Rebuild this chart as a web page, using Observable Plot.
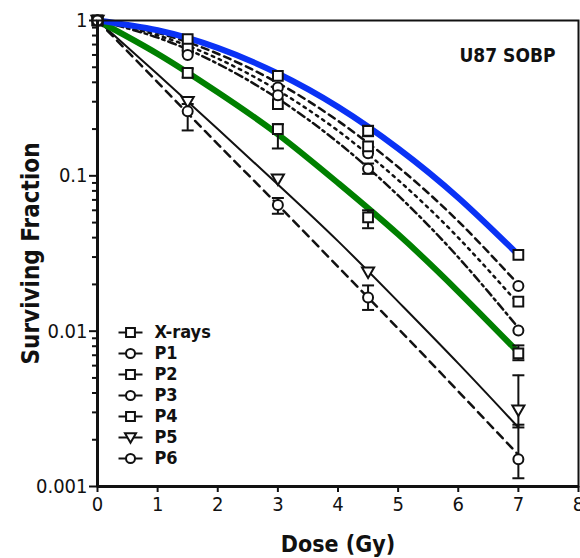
<!DOCTYPE html>
<html><head><meta charset="utf-8">
<script src="https://cdn.jsdelivr.net/npm/d3@7"></script>
<script src="https://cdn.jsdelivr.net/npm/@observablehq/plot@0.6"></script>
<style>
body{margin:0;background:#fff;}
</style></head><body><div id="chart"></div>
<script>
// ---- data ----
const seriesNames = ["X-rays","P1","P2","P3","P4","P5","P6"];
const doses = [0, 1.5, 3, 4.5, 7];
const sfXrays = [1, 0.76, 0.44, 0.195, 0.031];
const sfP1 = [1, 0.64, 0.37, 0.14, 0.0195];
const sfP2 = [1, 0.66, 0.29, 0.155, 0.0155];
const sfP3 = [1, 0.6, 0.33, 0.111, 0.0101];
const sfP4 = [1, 0.46, 0.2, 0.054, 0.0072];
const sfP5 = [1, 0.3, 0.095, 0.024, 0.0031];
const sfP6 = [1, 0.26, 0.065, 0.0165, 0.0015];

// fitted curves, read at integer doses
const fitDoses = [0, 1, 2, 3, 4, 5, 6, 7];
const fitXrays = [1, 0.865, 0.666, 0.456, 0.278, 0.15, 0.0723, 0.031];
const fitP1 = [1, 0.832, 0.611, 0.396, 0.226, 0.114, 0.051, 0.02];
const fitP2 = [1, 0.803, 0.569, 0.355, 0.195, 0.094, 0.04, 0.015];
const fitP3 = [1, 0.776, 0.527, 0.314, 0.164, 0.0748, 0.0299, 0.0105];
const fitP4 = [1, 0.61, 0.345, 0.185, 0.09, 0.042, 0.018, 0.0073];
const fitP5 = [1, 0.45, 0.2, 0.088, 0.038, 0.0155, 0.0062, 0.0024];
const fitP6 = [1, 0.4, 0.16, 0.065, 0.026, 0.0104, 0.0041, 0.0016];

// error bars
const errSeries = ["X-rays","P3","P4","P4","P4","P4","P5","P6","P6","P6","P6"];
const errDose =   [4.5, 4.5, 1.5, 3, 4.5, 7, 7, 1.5, 3, 4.5, 7];
const errLow =    [0.18, 0.103, 0.43, 0.15, 0.046, 0.0065, 0.0024, 0.196, 0.057, 0.0137, 0.00113];
const errHigh =   [0.21, 0.12, 0.49, 0.215, 0.06, 0.0081, 0.0052, 0.29, 0.072, 0.0197, 0.0025];

const xTicks = [0,1,2,3,4,5,6,7,8];
const yMajorTicks = [1, 0.1, 0.01, 0.001];
const yTickLabels = ["1", "0.1", "0.01", "0.001"];
const chartTitle = "U87 SOBP";
const xLabel = "Dose (Gy)";
const yLabel = "Surviving Fraction";

// ---- styles ----
const triDown = {draw(ctx, size){ const r = Math.sqrt(size/Math.PI); ctx.moveTo(-r*1.1,-r*0.85); ctx.lineTo(r*1.1,-r*0.85); ctx.lineTo(0,r*1.05); ctx.closePath(); }};
const hbar = {draw(ctx){ ctx.moveTo(-12,0); ctx.lineTo(12,0); }};
const cap = {draw(ctx){ ctx.moveTo(-6,0); ctx.lineTo(6,0); }};
const symbols = {"X-rays": d3.symbolSquare, P1: d3.symbolCircle, P2: d3.symbolSquare, P3: d3.symbolCircle, P4: d3.symbolSquare, P5: triDown, P6: d3.symbolCircle};
const radii = {"X-rays":5.5, P1:5, P2:5.5, P3:5, P4:5.5, P5:5.5, P6:5};
const lineStyle = {
  "X-rays": {stroke:"#0a32f5", strokeWidth:6},
  P1: {stroke:"#111", strokeWidth:2.5, strokeDasharray:"7,5"},
  P2: {stroke:"#111", strokeWidth:2.5, strokeDasharray:"2.5,5"},
  P3: {stroke:"#111", strokeWidth:2.5, strokeDasharray:"8,4,2.5,4"},
  P4: {stroke:"#008000", strokeWidth:6},
  P5: {stroke:"#111", strokeWidth:2},
  P6: {stroke:"#111", strokeWidth:2.5, strokeDasharray:"8,6"}
};

const sfBy = {"X-rays":sfXrays, P1:sfP1, P2:sfP2, P3:sfP3, P4:sfP4, P5:sfP5, P6:sfP6};
const fitBy = {"X-rays":fitXrays, P1:fitP1, P2:fitP2, P3:fitP3, P4:fitP4, P5:fitP5, P6:fitP6};

const yMinorTicks = [];
for (const dec of [0.001, 0.01, 0.1]) for (let k = 2; k <= 9; k++) yMinorTicks.push(+(k*dec).toPrecision(3));

const errData = errSeries.map((s,i)=>({series:s, dose:errDose[i], lo:errLow[i], hi:errHigh[i]}));

const marks = [];
// fitted lines
for (const s of ["P1","P2","P3","P6","P5","P4","X-rays"]) {
  marks.push(Plot.line(fitDoses.map((d,i)=>({x:d, y:fitBy[s][i]})), {x:"x", y:"y", curve:"natural", ...lineStyle[s]}));
}
// error bars
marks.push(Plot.ruleX(errData, {x:"dose", y1:"lo", y2:"hi", stroke:"#111", strokeWidth:2}));
marks.push(Plot.dot(errData, {x:"dose", y:"lo", symbol:cap, stroke:"#111", strokeWidth:2}));
marks.push(Plot.dot(errData, {x:"dose", y:"hi", symbol:cap, stroke:"#111", strokeWidth:2}));
// markers
for (const s of seriesNames) {
  marks.push(Plot.dot(doses.map((d,i)=>({x:d, y:sfBy[s][i]})), {x:"x", y:"y", symbol:symbols[s], r:radii[s], fill:"white", stroke:"#111", strokeWidth:2}));
}
// axes
marks.push(Plot.axisY(yMinorTicks, {tickSize:5, tickFormat:()=>"", strokeWidth:2, label:null}));
marks.push(Plot.axisY(yMajorTicks, {tickSize:8, tickPadding:2, fontSize:20, strokeWidth:2, label:null, tickFormat:(d)=>yTickLabels[yMajorTicks.indexOf(d)]}));
marks.push(Plot.axisX(xTicks, {tickSize:6, tickPadding:4, fontSize:20, strokeWidth:2, label:null}));
marks.push(Plot.frame({stroke:"#111", strokeWidth:2}));
marks.push(Plot.ruleX([0], {stroke:"#111", strokeWidth:3}));
marks.push(Plot.ruleY([0.001], {stroke:"#111", strokeWidth:3}));
// titles
marks.push(Plot.text([chartTitle], {frameAnchor:"top-right", dx:-23, dy:35, textAnchor:"end", lineAnchor:"middle", fontWeight:"bold", fontSize:19}));
marks.push(Plot.text([xLabel], {frameAnchor:"bottom", dy:58, textAnchor:"middle", lineAnchor:"middle", fontWeight:"bold", fontSize:23}));
marks.push(Plot.text([yLabel], {frameAnchor:"left", dx:-66, rotate:-90, textAnchor:"middle", lineAnchor:"middle", fontWeight:"bold", fontSize:24}));
// legend
seriesNames.forEach((s,i)=>{
  const dy = -154 + 21*i;
  marks.push(Plot.dot([s], {frameAnchor:"bottom-left", dx:33, dy, symbol:hbar, stroke:"#111", strokeWidth:2}));
  marks.push(Plot.dot([s], {frameAnchor:"bottom-left", dx:33, dy, symbol:symbols[s], r:radii[s]-0.5, fill:"white", stroke:"#111", strokeWidth:2}));
  marks.push(Plot.text([s], {frameAnchor:"bottom-left", dx:57, dy, textAnchor:"start", lineAnchor:"middle", fontWeight:"bold", fontSize:18}));
});

const chart = Plot.plot({
  width:580, height:558,
  marginLeft:97, marginRight:2, marginTop:20, marginBottom:72,
  style:{fontFamily:'"DejaVu Sans Condensed","DejaVu Sans",sans-serif', fontStretch:"condensed", color:"#111", background:"white"},
  x:{domain:[0,8], label:null},
  y:{type:"log", domain:[0.001,1], label:null},
  marks
});
document.getElementById("chart").appendChild(chart);
</script></body></html>
